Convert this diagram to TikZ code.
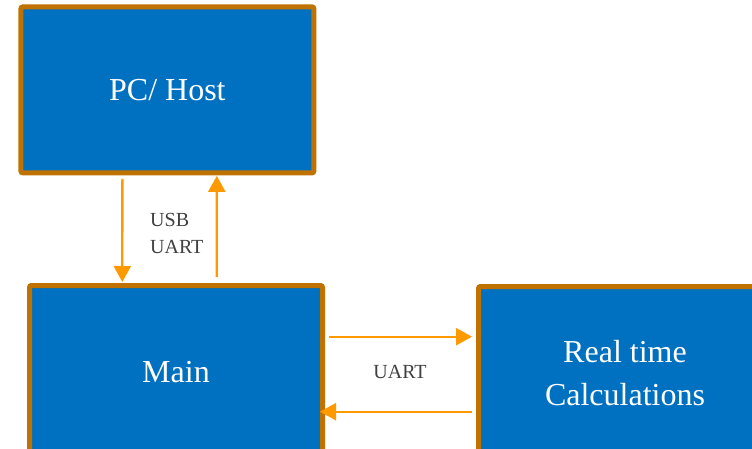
\documentclass[tikz,border=0pt]{standalone}
\usepackage{fontspec}
\setmainfont{Liberation Serif}
\usetikzlibrary{arrows.meta,calc}
\definecolor{boxblue}{RGB}{0,112,192}
\definecolor{boxedge}{RGB}{192,114,0}
\definecolor{linkorange}{RGB}{255,153,0}
\definecolor{labelgray}{RGB}{64,64,64}
\tikzset{
  block/.style={draw=boxedge, line width=5pt, fill=boxblue, rounded corners=2pt,
    minimum width=293pt, minimum height=166pt, inner sep=0pt, outer sep=0pt,
    text=white, align=center, font=\fontsize{32}{43}\selectfont},
  link/.style={draw=linkorange, line width=2.3pt,
    -{Triangle[length=16pt,width=17pt]}},
  linklabel/.style={text=labelgray, inner sep=0pt, font=\fontsize{20}{27}\selectfont}
}
\begin{document}
\begin{tikzpicture}[x=1pt,y=-1pt]
  \useasboundingbox (0,0) rectangle (752,449);

  % processing blocks
  \node[block] (pc) at (167.4,89.9) {PC/ Host};
  \node[block, minimum height=173pt] (main) at (176,372) {Main};
  \node[block, minimum height=173pt, anchor=north west] (real) at (478.5,286.5)
       {Real time\\Calculations};

  % host link
  \draw[link] ($(pc.south west)+(101.5,6)$) -- ($(main.north west)+(92.8,-3.5)$);
  \draw[link] ($(main.north west)+(187.2,-8.5)$) -- ($(pc.south west)+(195.9,3)$);
  \node[linklabel, anchor=west, align=left] (hostlbl) at (150,233) {USB\\UART};

  % calculation link
  \draw[link] ($(main.north east)+(6.5,51.2)$) -- ($(real.north west)+(-6.5,50.2)$);
  \draw[link] ($(real.north west)+(-6.5,125.2)$) -- ($(main.north east)+(-2.5,126.2)$);
  \node[linklabel] (calclbl) at (400,372) {UART};
\end{tikzpicture}
\end{document}
